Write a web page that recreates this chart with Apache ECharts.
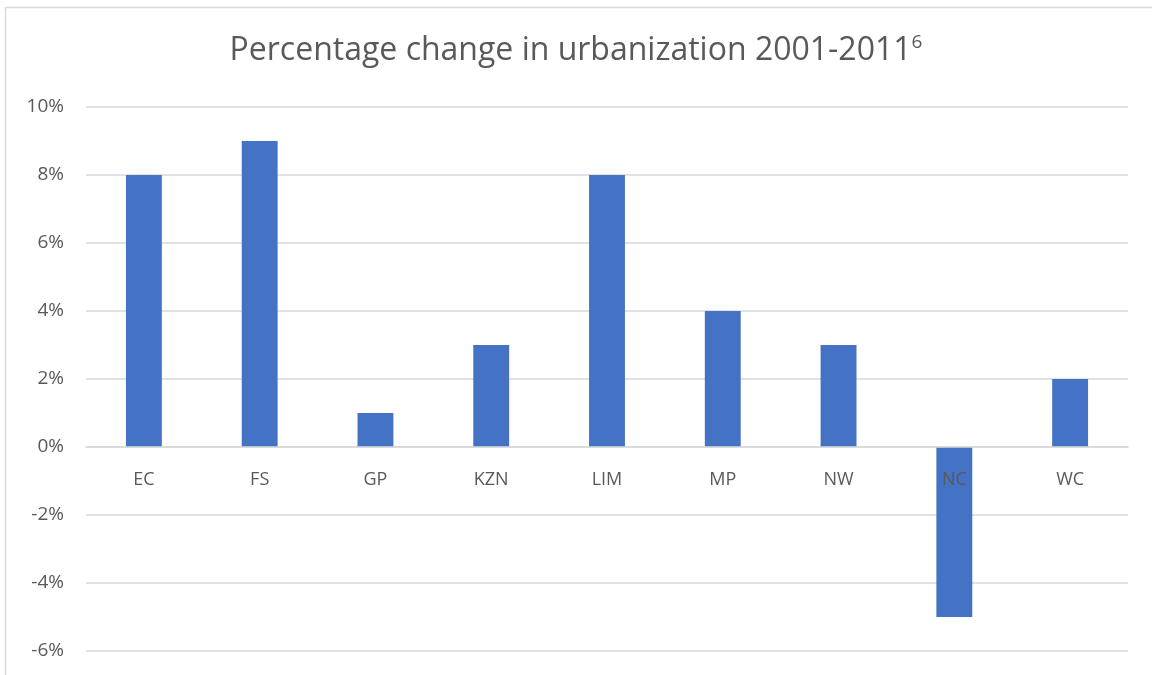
<!DOCTYPE html>
<html>
<head>
<meta charset="utf-8">
<script src="https://cdn.jsdelivr.net/npm/echarts@6/dist/echarts.min.js"></script>
<style>
  html, body { margin: 0; padding: 0; background: #fff; }
  #chart { width: 1152px; height: 675px; }
</style>
</head>
<body>
<div id="chart"></div>
<script>
const provinces = ['EC', 'FS', 'GP', 'KZN', 'LIM', 'MP', 'NW', 'NC', 'WC']
const changePct = [8, 9, 1, 3, 8, 4, 3, -5, 2]
const yTicks = { min: -6, max: 10, step: 2 }

// grid is 544px tall (107..651); category labels sit on the 0% line
const gridTop = 107
const gridHeight = 544
const zeroOffset = -gridHeight * (0 - yTicks.min) / (yTicks.max - yTicks.min)

const chart = echarts.init(document.getElementById('chart'))
chart.setOption({
  animation: false,
  textStyle: { fontFamily: 'Open Sans' },
  graphic: [{
    type: 'rect',
    shape: { x: 5.5, y: 7.5, width: 1300, height: 800 },
    style: { fill: 'none', stroke: '#d9d9d9', lineWidth: 1.5 },
    silent: true
  }],
  title: {
    text: 'Percentage change in urbanization 2001-2011{sup|6}',
    left: 'center',
    top: 28,
    textStyle: {
      color: '#595959',
      fontSize: 32,
      fontWeight: 'normal',
      fontFamily: 'Open Sans',
      rich: {
        sup: { fontSize: 19, color: '#595959', fontFamily: 'Open Sans', padding: [0, 0, 16, 0] }
      }
    }
  },
  grid: { left: 86, right: 24, top: gridTop, height: gridHeight, containLabel: false, outerBoundsMode: 'none' },
  xAxis: {
    type: 'category',
    data: provinces,
    z: 5,
    offset: zeroOffset,
    axisLine: { onZero: false, lineStyle: { color: '#d9d9d9', width: 1.5 } },
    axisTick: { show: false },
    axisLabel: { color: '#595959', fontSize: 18, margin: 24 }
  },
  yAxis: {
    type: 'value',
    min: yTicks.min,
    max: yTicks.max,
    interval: yTicks.step,
    axisLine: { show: false },
    axisTick: { show: false },
    axisLabel: { color: '#595959', fontSize: 19, margin: 22, formatter: v => v + '%' },
    splitLine: { lineStyle: { color: '#d9d9d9', width: 1.5 } }
  },
  series: [{
    type: 'bar',
    data: changePct,
    barWidth: '31%',
    itemStyle: { color: '#4472C4' }
  }]
})
</script>
</body>
</html>
